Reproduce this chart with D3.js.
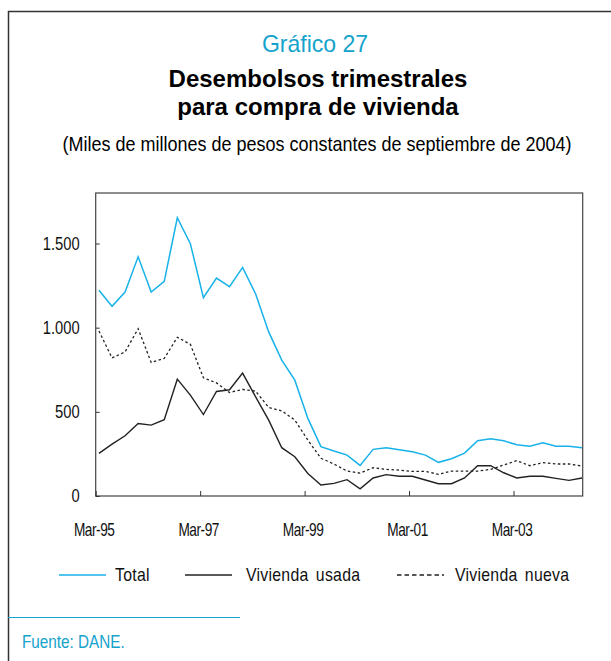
<!DOCTYPE html>
<html>
<head>
<meta charset="utf-8">
<script src="https://cdn.jsdelivr.net/npm/d3@7"></script>
<style>
 body { margin: 0; background: #fff; }
 text { font-family: "Liberation Sans", Arial, sans-serif; }
</style>
</head>
<body>
<script>
const width = 611;
const height = 661;

// trimestres Mar-95 .. Jun-04
const quarters = d3.range(0, 38);
const tickLabels = ["Mar-95", "Mar-97", "Mar-99", "Mar-01", "Mar-03"];
const yTicks = [0, 500, 1000, 1500];

const total = [1222, 1127, 1212, 1421, 1212, 1275, 1653, 1499, 1178, 1295,
 1244, 1358, 1200, 975, 807, 688, 461, 293, 267, 243,
 182, 277, 287, 275, 263, 243, 200, 221, 255, 328,
 340, 328, 304, 295, 316, 296, 296, 287];

const usada = [253, 308, 358, 431, 421, 453, 694, 599, 484, 621,
 631, 730, 589, 451, 287, 233, 134, 65, 75, 97,
 43, 107, 127, 117, 117, 95, 73, 73, 107, 180,
 180, 138, 107, 117, 117, 105, 93, 107];

const nueva = [980, 820, 856, 994, 793, 817, 943, 901, 702, 672,
 615, 633, 623, 526, 506, 451, 332, 224, 190, 148,
 136, 168, 158, 154, 146, 146, 129, 148, 148, 148,
 158, 184, 210, 180, 198, 190, 190, 178];

const blue = "#17b2ea";
const titleBlue = "#14a3cc";

const svg = d3.select("body")
 .append("svg")
  .attr("width", width)
  .attr("height", height);

// marco exterior
svg.append("path")
 .attr("d", "M8.5," + height + "V11.5H" + width)
 .attr("fill", "none")
 .attr("stroke", "#333")
 .attr("stroke-width", 1.5);

svg.append("text")
 .attr("transform", "translate(315,52) scale(0.96,1)")
 .attr("text-anchor", "middle")
 .attr("font-size", 24)
 .attr("fill", titleBlue)
 .text("Gráfico 27");

svg.append("text")
 .attr("x", 318).attr("y", 87)
 .attr("text-anchor", "middle")
 .attr("font-size", 24)
 .attr("font-weight", "bold")
 .text("Desembolsos trimestrales");

svg.append("text")
 .attr("x", 318).attr("y", 115)
 .attr("text-anchor", "middle")
 .attr("font-size", 24)
 .attr("font-weight", "bold")
 .text("para compra de vivienda");

svg.append("text")
 .attr("transform", "translate(317,151) scale(0.9,1)")
 .attr("text-anchor", "middle")
 .attr("font-size", 20)
 .text("(Miles de millones de pesos constantes de septiembre de 2004)");

// area del grafico
const plotLeft = 95.7, plotRight = 582.7, plotTop = 193, plotBottom = 496;

const x = d3.scaleLinear()
 .domain([-0.25, 37.05])
 .range([plotLeft, plotRight]);

const y = d3.scaleLinear()
 .domain([0, 1800])
 .range([plotBottom, plotTop]);

svg.append("rect")
 .attr("x", plotLeft).attr("y", plotTop)
 .attr("width", plotRight - plotLeft).attr("height", plotBottom - plotTop)
 .attr("fill", "none")
 .attr("stroke", "#444")
 .attr("stroke-width", 1.2);

const xAxis = d3.axisBottom(x)
 .tickValues(tickLabels.map((d, i) => i * 8 - 0.25))
 .tickFormat((d, i) => tickLabels[i])
 .tickSize(-5)
 .tickPadding(27);

const gx = svg.append("g")
 .attr("transform", "translate(0," + plotBottom + ")")
 .call(xAxis);
gx.select(".domain").remove();
gx.selectAll("line").attr("stroke", "#333");
gx.selectAll("text")
 .attr("font-size", 18)
 .attr("fill", "#111")
 .attr("transform", "translate(-2,0) scale(0.76,1)")
 .style("letter-spacing", "-0.6px");

const ySquash = 0.82;
const yAxis = d3.axisLeft(y)
 .tickValues(yTicks)
 .tickFormat(d => d3.format(",")(d).replace(",", "."))
 .tickSize(-4)
 .tickPadding(16);

const gy = svg.append("g")
 .attr("transform", "translate(" + plotLeft + ",0)")
 .call(yAxis);
gy.select(".domain").remove();
gy.selectAll("line").attr("stroke", "#333");
gy.selectAll("text")
 .attr("font-size", 18)
 .attr("fill", "#111")
 .attr("x", -16 / ySquash)
 .attr("transform", "scale(" + ySquash + ",1)");

const line = d3.line()
 .x((d, i) => x(quarters[i]))
 .y(d => y(d));

svg.append("path")
 .datum(nueva)
 .attr("d", line)
 .attr("fill", "none")
 .attr("stroke", "#222")
 .attr("stroke-width", 1.3)
 .attr("stroke-dasharray", "2.5,2.5");

svg.append("path")
 .datum(usada)
 .attr("d", line)
 .attr("fill", "none")
 .attr("stroke", "#222")
 .attr("stroke-width", 1.4);

svg.append("path")
 .datum(total)
 .attr("d", line)
 .attr("fill", "none")
 .attr("stroke", blue)
 .attr("stroke-width", 1.5);

// leyenda
const legend = [
 {name: "Total", color: blue, dash: null, x0: 59, tx: 115},
 {name: "Vivienda usada", color: "#222", dash: null, x0: 185, tx: 246},
 {name: "Vivienda nueva", color: "#222", dash: "4.5,3", x0: 397, tx: 455}
];

const lg = svg.append("g")
 .selectAll("g")
  .data(legend)
  .join("g");

lg.append("line")
 .attr("x1", d => d.x0).attr("x2", d => d.x0 + 47)
 .attr("y1", 575).attr("y2", 575)
 .attr("stroke", d => d.color)
 .attr("stroke-width", 1.3)
 .attr("stroke-dasharray", d => d.dash);

lg.append("text")
 .attr("transform", d => "translate(" + d.tx + ",581) scale(0.88,1)")
 .attr("font-size", 18)
 .attr("fill", "#111")
 .style("letter-spacing", "0.3px")
 .style("word-spacing", "3px")
 .text(d => d.name);

// fuente
svg.append("line")
 .attr("x1", 8).attr("x2", 240)
 .attr("y1", 617.5).attr("y2", 617.5)
 .attr("stroke", titleBlue)
 .attr("stroke-width", 1.2);

svg.append("text")
 .attr("transform", "translate(22,648) scale(0.85,1)")
 .attr("font-size", 18)
 .attr("fill", titleBlue)
 .text("Fuente: DANE.");
</script>
</body>
</html>
